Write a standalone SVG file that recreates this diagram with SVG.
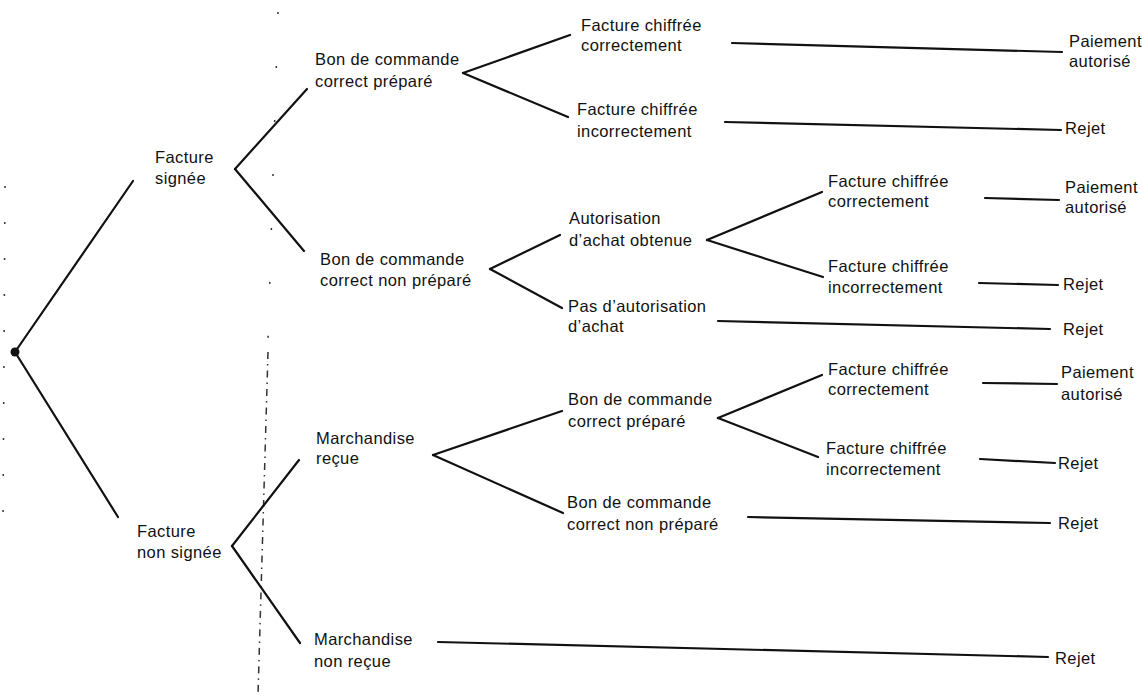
<svg xmlns="http://www.w3.org/2000/svg" width="1142" height="698" viewBox="0 0 1142 698">
<style>
.bg{fill:#ffffff}
text{font-family:"Liberation Sans",Arial,sans-serif;font-size:16.5px;fill:#111;letter-spacing:0.4px}
.c line{stroke:#111;stroke-width:2.2;stroke-linecap:round}
.dot{stroke:#333;stroke-width:1.5;fill:none}
</style>
<rect class="bg" x="0" y="0" width="1142" height="698"/>
<g id="guides">
<line class="dot" x1="5" y1="186" x2="3" y2="520" stroke-dasharray="2 34"/>
<line class="dot" x1="278" y1="12" x2="268" y2="340" stroke-dasharray="2 52"/>
<line class="dot" x1="268" y1="352" x2="258" y2="695" stroke-dasharray="7 5 1.5 5"/>
</g>
<g id="connectors" class="c">
<line x1="15" y1="352" x2="133" y2="181"/>
<line x1="15" y1="352" x2="118" y2="517"/>
<line x1="235" y1="169" x2="307" y2="89"/>
<line x1="235" y1="169" x2="304" y2="251"/>
<line x1="463" y1="73" x2="570" y2="35"/>
<line x1="463" y1="73" x2="568" y2="117"/>
<line x1="732" y1="43" x2="1062" y2="52"/>
<line x1="725" y1="122" x2="1061" y2="130"/>
<line x1="490" y1="269" x2="560" y2="235"/>
<line x1="490" y1="269" x2="562" y2="308"/>
<line x1="707" y1="240" x2="822" y2="192"/>
<line x1="707" y1="240" x2="823" y2="277"/>
<line x1="985" y1="198" x2="1059" y2="200"/>
<line x1="979" y1="283" x2="1058" y2="285"/>
<line x1="718" y1="321" x2="1050" y2="329"/>
<line x1="232" y1="546" x2="299" y2="460"/>
<line x1="232" y1="546" x2="300" y2="643"/>
<line x1="433" y1="455" x2="562" y2="411"/>
<line x1="433" y1="455" x2="563" y2="513"/>
<line x1="718" y1="418" x2="822" y2="375"/>
<line x1="718" y1="418" x2="818" y2="457"/>
<line x1="983" y1="383" x2="1057" y2="384"/>
<line x1="980" y1="459" x2="1055" y2="463"/>
<line x1="748" y1="517" x2="1050" y2="523"/>
<line x1="438" y1="642" x2="1048" y2="657"/>
</g>
<g id="root"><circle cx="15" cy="352" r="4.5" fill="#111"/></g>
<g id="facture-signee"><text x="155" y="163">Facture</text><text x="155" y="184">signée</text></g>
<g id="bc-prepare-1"><text x="315" y="65">Bon de commande</text><text x="315" y="87">correct préparé</text></g>
<g id="bc-non-prepare-1"><text x="320" y="265">Bon de commande</text><text x="320" y="286">correct non préparé</text></g>
<g id="fc-correct-1"><text x="581" y="31">Facture chiffrée</text><text x="581" y="51">correctement</text></g>
<g id="fc-incorrect-1"><text x="577" y="115">Facture chiffrée</text><text x="577" y="137">incorrectement</text></g>
<g id="paiement-1"><text x="1069" y="47">Paiement</text><text x="1069" y="67">autorisé</text></g>
<g id="rejet-1"><text x="1065" y="134">Rejet</text></g>
<g id="autorisation"><text x="569" y="224">Autorisation</text><text x="569" y="246">d’achat obtenue</text></g>
<g id="pas-autorisation"><text x="568" y="312">Pas d’autorisation</text><text x="568" y="332">d’achat</text></g>
<g id="fc-correct-2"><text x="828" y="187">Facture chiffrée</text><text x="828" y="207">correctement</text></g>
<g id="fc-incorrect-2"><text x="828" y="272">Facture chiffrée</text><text x="828" y="293">incorrectement</text></g>
<g id="paiement-2"><text x="1065" y="193">Paiement</text><text x="1065" y="213">autorisé</text></g>
<g id="rejet-2"><text x="1063" y="290">Rejet</text></g>
<g id="rejet-3"><text x="1063" y="335">Rejet</text></g>
<g id="facture-non-signee"><text x="137" y="537">Facture</text><text x="137" y="558">non signée</text></g>
<g id="marchandise-recue"><text x="316" y="444">Marchandise</text><text x="316" y="464">reçue</text></g>
<g id="marchandise-non-recue"><text x="314" y="645">Marchandise</text><text x="314" y="667">non reçue</text></g>
<g id="bc-prepare-2"><text x="568" y="405">Bon de commande</text><text x="568" y="427">correct préparé</text></g>
<g id="bc-non-prepare-2"><text x="567" y="508">Bon de commande</text><text x="567" y="530">correct non préparé</text></g>
<g id="fc-correct-3"><text x="828" y="375">Facture chiffrée</text><text x="828" y="395">correctement</text></g>
<g id="fc-incorrect-3"><text x="826" y="454">Facture chiffrée</text><text x="826" y="475">incorrectement</text></g>
<g id="paiement-3"><text x="1061" y="378">Paiement</text><text x="1061" y="400">autorisé</text></g>
<g id="rejet-4"><text x="1058" y="469">Rejet</text></g>
<g id="rejet-5"><text x="1058" y="529">Rejet</text></g>
<g id="rejet-6"><text x="1055" y="664">Rejet</text></g>
</svg>
